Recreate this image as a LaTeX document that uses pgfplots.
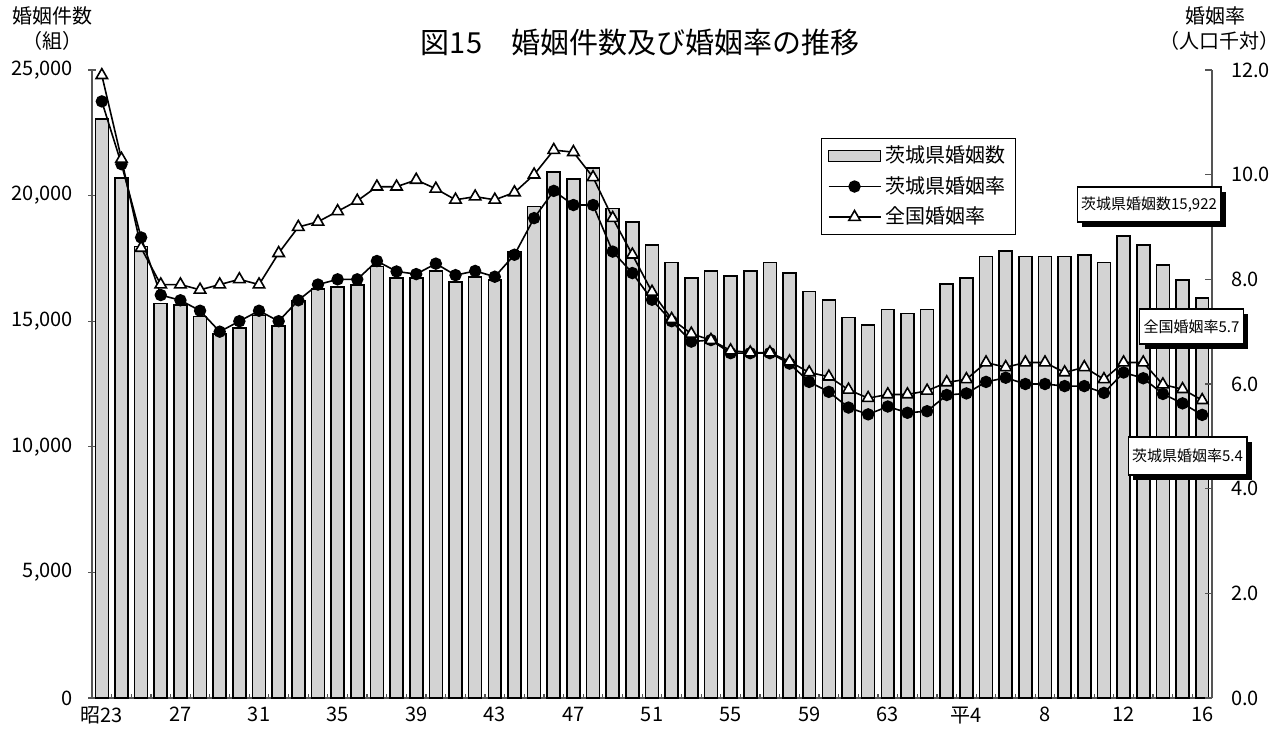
\documentclass[border=0pt]{standalone}
\usepackage{fontspec}
\setmainfont{Noto Sans CJK JP}
\usepackage{pgfplots}
\pgfplotsset{compat=1.18}
\usepackage{pgfplotstable}
\usetikzlibrary{shadows}
\definecolor{barfill}{RGB}{211,211,211}
\definecolor{axisgray}{RGB}{85,85,85}
\pgfplotsset{mylegline/.style={legend image code/.code={\draw[mark repeat=2,mark phase=2,##1] plot coordinates {(0pt,0pt)(13pt,0pt)(26pt,0pt)};}}}
\pgfplotsset{mylegbar/.style={legend image code/.code={\draw[fill=barfill,draw=black,line width=0.7pt] (0pt,-2.75pt) rectangle (26pt,2.75pt);}}}

\pgfplotstableread{
i count ibr nat
0 23050 11.4 11.9
1 20690 10.2 10.3
2 17970 8.8 8.6
3 15710 7.7 7.9
4 15650 7.6 7.9
5 15180 7.4 7.8
6 14480 7.0 7.9
7 14720 7.2 8.0
8 15220 7.4 7.9
9 14810 7.2 8.5
10 15800 7.6 9.0
11 16280 7.9 9.1
12 16350 8.0 9.3
13 16430 8.0 9.5
14 17170 8.35 9.77
15 16710 8.15 9.77
16 16710 8.1 9.9
17 17010 8.3 9.73
18 16550 8.08 9.52
19 16770 8.16 9.58
20 16640 8.05 9.52
21 17770 8.47 9.66
22 19560 9.17 10.0
23 20950 9.69 10.47
24 20650 9.42 10.43
25 21110 9.42 9.95
26 19490 8.53 9.17
27 18960 8.12 8.47
28 18030 7.61 7.76
29 17330 7.2 7.24
30 16710 6.81 6.96
31 17010 6.84 6.84
32 16800 6.59 6.64
33 17010 6.59 6.6
34 17330 6.59 6.6
35 16930 6.39 6.43
36 16180 6.04 6.22
37 15840 5.85 6.14
38 15150 5.55 5.89
39 14850 5.42 5.73
40 15470 5.57 5.8
41 15310 5.45 5.8
42 15470 5.48 5.87
43 16480 5.79 6.03
44 16730 5.82 6.09
45 17570 6.04 6.41
46 17800 6.12 6.32
47 17570 6.0 6.41
48 17570 6.0 6.41
49 17570 5.96 6.22
50 17640 5.96 6.32
51 17340 5.83 6.09
52 18400 6.22 6.41
53 18030 6.11 6.41
54 17240 5.81 5.99
55 16640 5.63 5.9
56 15922 5.41 5.69
}\datatable

\begin{document}
\begin{tikzpicture}
\path[use as bounding box] (0pt,0pt) rectangle (638.5pt,372.5pt);
\begin{axis}[
  at={(46pt,23.5pt)}, anchor=south west,
  scale only axis, width=560pt, height=314pt,
  xmin=-0.5, xmax=56.5, ymin=0, ymax=25000,
  scaled y ticks=false,
  axis x line*=bottom, axis y line*=left,
  axis line style={axisgray, line width=0.6pt},
  tick align=inside,
  major tick length=4pt, minor tick length=2pt,
  ytick={0,5000,10000,15000,20000,25000},
  yticklabels={0,{5,000},{10,000},{15,000},{20,000},{25,000}},
  y tick style={axisgray, line width=0.6pt, xshift=-2pt},
  xtick={0,4,...,56},
  xticklabels={昭23,27,31,35,39,43,47,51,55,59,63,平4,8,12,16},
  major x tick style={draw=none},
  minor xtick={-0.5,0.5,...,56.5},
  minor x tick style={axisgray, line width=0.6pt},
  ticklabel style={font=\fontsize{10}{12}\selectfont, text=black},
  yticklabel style={xshift=-6pt},
  xticklabel style={yshift=-1pt},
  clip=false,
]
\addplot[ybar, bar width=0.66, fill=barfill, draw=black, line width=0.8pt] table[x=i,y=count]{\datatable};
\end{axis}
\begin{axis}[
  at={(46pt,23.5pt)}, anchor=south west,
  scale only axis, width=560pt, height=314pt,
  xmin=-0.5, xmax=56.5, ymin=0, ymax=12,
  scaled y ticks=false,
  axis x line=none, axis y line*=right,
  axis line style={axisgray, line width=0.6pt},
  tick align=inside, major tick length=3.5pt,
  ytick={0,2,4,6,8,10,12},
  yticklabels={0.0,2.0,4.0,6.0,8.0,10.0,12.0},
  y tick style={axisgray, line width=0.6pt},
  ticklabel style={font=\fontsize{10}{12}\selectfont, text=black},
  yticklabel style={xshift=6pt},
  clip=false,
  legend style={at={(0.651,0.892)}, anchor=north west, draw=black, line width=0.6pt, fill=white,
    font=\fontsize{10}{12}\selectfont, row sep=0.8pt, inner xsep=3pt, inner ysep=1.5pt,
    nodes={inner sep=2pt, text height=8.5pt, text depth=2pt}},
  legend cell align=left,
]
\addlegendimage{mylegbar}
\addlegendentry{茨城県婚姻数}
\addplot[black, line width=0.8pt, mark=*, mark size=2.7pt, mark options={fill=black, solid}, mylegline]
  table[x=i,y=ibr]{\datatable};
\addlegendentry{茨城県婚姻率}
\addplot[black, line width=0.8pt, mark=triangle*, mark size=3.3pt, mark options={fill=white, solid}, mylegline]
  table[x=i,y=nat]{\datatable};
\addlegendentry{全国婚姻率}
\end{axis}
% titles
\node[font=\fontsize{14.5}{16}\selectfont] at (320pt,351.5pt) {図15　婚姻件数及び婚姻率の推移};
\node[font=\fontsize{10}{12}\selectfont] at (26pt,364.5pt) {婚姻件数};
\node[font=\fontsize{10}{12}\selectfont] at (26pt,352pt) {（組）};
\node[font=\fontsize{10}{12}\selectfont] at (607.75pt,364.5pt) {婚姻率};
\node[font=\fontsize{10}{12}\selectfont] at (609.5pt,352pt) {（人口千対）};
% callouts
\tikzset{callout/.style={draw=black, line width=0.6pt, fill=white, font=\fontsize{7.5}{9}\selectfont,
  inner xsep=2pt, inner ysep=0pt, minimum height=17.5pt,
  drop shadow={shadow xshift=2.5pt, shadow yshift=-2.5pt, fill=black, opacity=1}}}
\node[callout] at (574.5pt,270.25pt) {茨城県婚姻数15,922};
\node[callout] at (595.75pt,209.25pt) {全国婚姻率5.7};
\node[callout, minimum height=19pt] at (593.75pt,144.5pt) {茨城県婚姻率5.4};
\end{tikzpicture}
\end{document}
